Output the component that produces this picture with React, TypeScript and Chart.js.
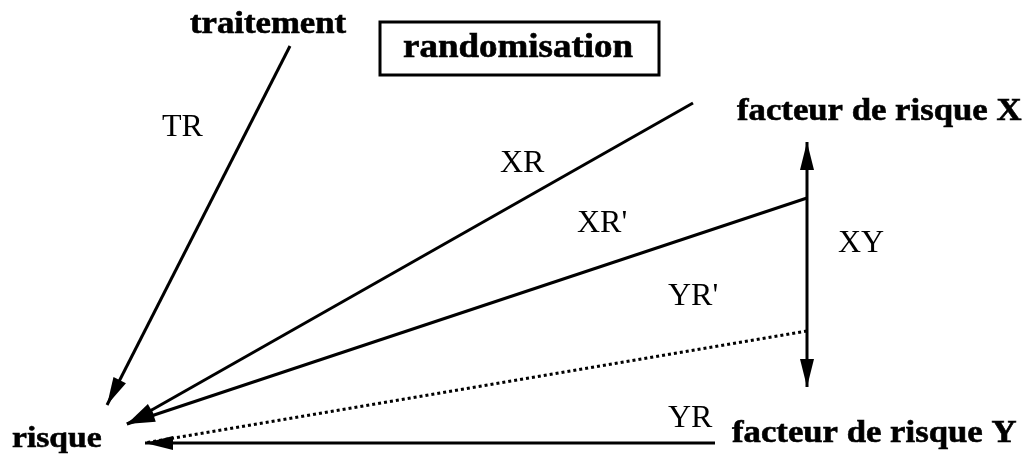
import React, { useEffect, useRef } from "react";
import { Chart, registerables } from "chart.js";

Chart.register(...registerables);

// Diagram coordinate space (matches the picture, y grows downward)
const SPACE_W = 1025;
const SPACE_H = 454;

// Edges of the diagram: first point -> second point
const edgeTR = [{ x: 290, y: 46 }, { x: 107, y: 405 }];
const edgeXR = [{ x: 693, y: 103 }, { x: 127, y: 424 }];
const edgeXRp = [{ x: 807, y: 198 }, { x: 127, y: 424 }];
const edgeYRp = [{ x: 807, y: 331 }, { x: 145, y: 443 }];
const edgeYR = [{ x: 715, y: 443 }, { x: 145, y: 443 }];
const edgeXY = [{ x: 807, y: 142 }, { x: 807, y: 387 }];

// Text labels
const labelTexts = [
  "traitement",
  "randomisation",
  "TR",
  "XR",
  "facteur de risque X",
  "XR'",
  "XY",
  "YR'",
  "YR",
  "facteur de risque Y",
  "risque",
];
const labelX = [190, 403, 162, 500, 737, 577, 838, 668, 668, 732, 12];
const labelY = [33, 57, 136, 172, 120, 232, 252, 305, 427, 442, 447];
const labelBold = [true, true, false, false, true, false, false, false, false, true, true];
const labelSize = [31, 33, 32, 32, 31, 32, 32, 32, 32, 31, 30];

// "randomisation" frame corners
const boxCorners = [{ x: 380, y: 22 }, { x: 659, y: 75 }];

const arrowPlugin = {
  id: "arrowHeads",
  afterDatasetsDraw(chart: any) {
    const ctx = chart.ctx;
    chart.data.datasets.forEach((ds: any, i: number) => {
      const meta = chart.getDatasetMeta(i);
      const pts = meta.data;
      if (!pts || pts.length < 2) return;
      const drawHead = (tip: any, from: any) => {
        const ang = Math.atan2(tip.y - from.y, tip.x - from.x);
        const len = 28;
        const half = 7;
        ctx.save();
        ctx.translate(tip.x, tip.y);
        ctx.rotate(ang);
        ctx.beginPath();
        ctx.moveTo(0, 0);
        ctx.lineTo(-len, -half);
        ctx.lineTo(-len, half);
        ctx.closePath();
        ctx.fillStyle = "#000";
        ctx.fill();
        ctx.restore();
      };
      const a = pts[0];
      const b = pts[pts.length - 1];
      if (ds.arrowEnd) drawHead(b, a);
      if (ds.arrowStart) drawHead(a, b);
    });
  },
};

const textPlugin = {
  id: "diagramText",
  afterDraw(chart: any) {
    const ctx = chart.ctx;
    const xs = chart.scales.x;
    const ys = chart.scales.y;
    // frame
    const x0 = xs.getPixelForValue(boxCorners[0].x);
    const y0 = ys.getPixelForValue(boxCorners[0].y);
    const x1 = xs.getPixelForValue(boxCorners[1].x);
    const y1 = ys.getPixelForValue(boxCorners[1].y);
    ctx.save();
    ctx.lineWidth = 3;
    ctx.strokeStyle = "#000";
    ctx.strokeRect(Math.min(x0, x1), Math.min(y0, y1), Math.abs(x1 - x0), Math.abs(y1 - y0));
    ctx.restore();
    labelTexts.forEach((t, i) => {
      const px = xs.getPixelForValue(labelX[i]);
      const py = ys.getPixelForValue(labelY[i]);
      ctx.save();
      ctx.translate(px, py);
      ctx.fillStyle = "#000";
      ctx.strokeStyle = "#000";
      ctx.textAlign = "left";
      ctx.textBaseline = "alphabetic";
      if (labelBold[i]) {
        ctx.scale(1.12, 1);
        ctx.font = `bold ${labelSize[i]}px "Liberation Serif", "DejaVu Serif", serif`;
        ctx.fillText(t, 0, 0);
        ctx.lineWidth = 0.6;
        ctx.strokeText(t, 0, 0);
      } else {
        ctx.font = `${labelSize[i]}px "Liberation Serif", "DejaVu Serif", serif`;
        ctx.fillText(t, 0, 0);
      }
      ctx.restore();
    });
  },
};

export default function App() {
  const ref = useRef<HTMLCanvasElement | null>(null);

  useEffect(() => {
    if (!ref.current) return;
    const lineBase = {
      showLine: true,
      borderColor: "#000",
      borderWidth: 3,
      pointRadius: 0,
      pointHoverRadius: 0,
      fill: false,
      clip: false as any,
    };
    const chart = new Chart(ref.current, {
      type: "scatter",
      data: {
        datasets: [
          { ...lineBase, label: "TR", data: edgeTR, arrowEnd: true } as any,
          { ...lineBase, label: "XR", data: edgeXR, arrowEnd: true } as any,
          { ...lineBase, label: "XR'", data: edgeXRp, arrowEnd: true } as any,
          { ...lineBase, label: "YR'", data: edgeYRp, borderDash: [3, 3] } as any,
          { ...lineBase, label: "YR", data: edgeYR, arrowEnd: true } as any,
          { ...lineBase, label: "XY", data: edgeXY, arrowEnd: true, arrowStart: true } as any,
        ],
      },
      options: {
        animation: false,
        responsive: false,
        devicePixelRatio: 1,
        layout: { padding: 0 },
        events: [],
        plugins: {
          legend: { display: false },
          tooltip: { enabled: false },
          title: { display: false },
        },
        scales: {
          x: { type: "linear", min: 0, max: SPACE_W, display: false },
          y: { type: "linear", min: 0, max: SPACE_H, reverse: true, display: false },
        },
      },
      plugins: [arrowPlugin, textPlugin],
    });
    return () => chart.destroy();
  }, []);

  return (
    <div
      style={{
        position: "absolute",
        left: 0,
        top: 0,
        width: SPACE_W,
        height: SPACE_H,
        background: "#fff",
      }}
    >
      <canvas ref={ref} width={SPACE_W} height={SPACE_H} style={{ display: "block" }} />
    </div>
  );
}
